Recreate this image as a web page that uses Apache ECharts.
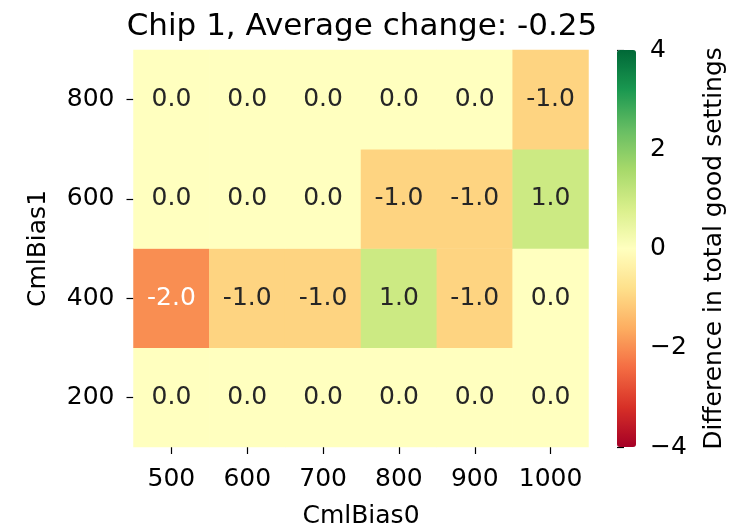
<!DOCTYPE html>
<html>
<head>
<meta charset="utf-8">
<script src="https://cdn.jsdelivr.net/npm/echarts@6/dist/echarts.min.js"></script>
<style>html,body{margin:0;padding:0;background:#fff;}#c{width:738px;height:529px;}</style>
</head>
<body>
<div id="c"></div>
<script>
const xCategories = ['500', '600', '700', '800', '900', '1000'];
const yCategories = ['200', '400', '600', '800'];
const row200 = [0, 0, 0, 0, 0, 0];
const row400 = [-2, -1, -1, 1, -1, 0];
const row600 = [0, 0, 0, -1, -1, 1];
const row800 = [0, 0, 0, 0, 0, -1];
const colorbarTicks = [-4, -2, 0, 2, 4];
const titleText = 'Chip 1, Average change: -0.25';
const rdylgn = ['#a50026','#d73027','#f46d43','#fdae61','#fee08b','#ffffbf','#d9ef8b','#a6d96a','#66bd63','#1a9850','#006837'];

const rows = [row200, row400, row600, row800];
const data = [];
rows.forEach((r, yi) => r.forEach((v, xi) => {
  data.push({
    value: [xi, yi, v],
    label: { color: v <= -2 ? '#ffffff' : '#262626' }
  });
}));

const FONT = 'DejaVu Sans';
const chart = echarts.init(document.getElementById('c'), null, { renderer: 'canvas' });
chart.setOption({
  animation: false,
  backgroundColor: '#ffffff',
  textStyle: { fontFamily: FONT },
  title: {
    text: titleText,
    left: 357, top: 6, textAlign: 'center',
    textStyle: { fontFamily: FONT, fontSize: 31, fontWeight: 'normal', color: '#000' }
  },
  grid: [
    { left: 133.5, top: 50, width: 455, height: 397, outerBoundsMode: 'none', containLabel: false },
    { left: 617, top: 50, width: 19, height: 397, outerBoundsMode: 'none', containLabel: false }
  ],
  xAxis: [
    {
      type: 'category', data: xCategories, gridIndex: 0,
      axisLine: { show: false },
      axisTick: { show: true, alignWithLabel: true, length: 7, lineStyle: { color: '#000', width: 1.2 } },
      axisLabel: { fontFamily: FONT, fontSize: 25, color: '#000', margin: 20, interval: 0 },
      splitLine: { show: false },
      name: 'CmlBias0', nameLocation: 'middle', nameGap: 57,
      nameTextStyle: { fontFamily: FONT, fontSize: 25, color: '#000' }
    },
    { type: 'value', gridIndex: 1, show: false, min: 0, max: 1 }
  ],
  yAxis: [
    {
      type: 'category', data: yCategories, gridIndex: 0,
      axisLine: { show: false },
      axisTick: { show: true, alignWithLabel: true, length: 7, lineStyle: { color: '#000', width: 1.2 } },
      axisLabel: { fontFamily: FONT, fontSize: 25, color: '#000', margin: 19, interval: 0 },
      splitLine: { show: false },
      name: 'CmlBias1', nameLocation: 'middle', nameGap: 83, nameRotate: 90,
      nameTextStyle: { fontFamily: FONT, fontSize: 25, color: '#000' }
    },
    {
      type: 'value', gridIndex: 1, position: 'right', min: -4, max: 4, interval: 2,
      axisLine: { show: false },
      axisTick: { show: true, length: 7, lineStyle: { color: '#000', width: 1.2 } },
      axisLabel: {
        fontFamily: FONT, fontSize: 25, color: '#000', margin: 14,
        formatter: v => (v < 0 ? '\u2212' + Math.abs(v) : String(v))
      },
      splitLine: { show: false },
      name: 'Difference in total good settings', nameLocation: 'middle', nameGap: 66, nameRotate: 90,
      nameTextStyle: { fontFamily: FONT, fontSize: 25, color: '#000' }
    }
  ],
  visualMap: {
    type: 'continuous', min: colorbarTicks[0], max: colorbarTicks[colorbarTicks.length - 1],
    seriesIndex: 0, calculable: false, show: true, orient: 'vertical',
    left: 617, top: 50, itemWidth: 19, itemHeight: 397, padding: 0,
    text: null, showLabel: false, hoverLink: false,
    inRange: { color: rdylgn }
  },
  series: [{
    type: 'heatmap', xAxisIndex: 0, yAxisIndex: 0, data: data,
    label: {
      show: true, fontFamily: FONT, fontSize: 25,
      formatter: p => p.value[2].toFixed(1)
    },
    itemStyle: { borderWidth: 0 },
    emphasis: { disabled: true }
  }]
});
</script>
</body>
</html>
